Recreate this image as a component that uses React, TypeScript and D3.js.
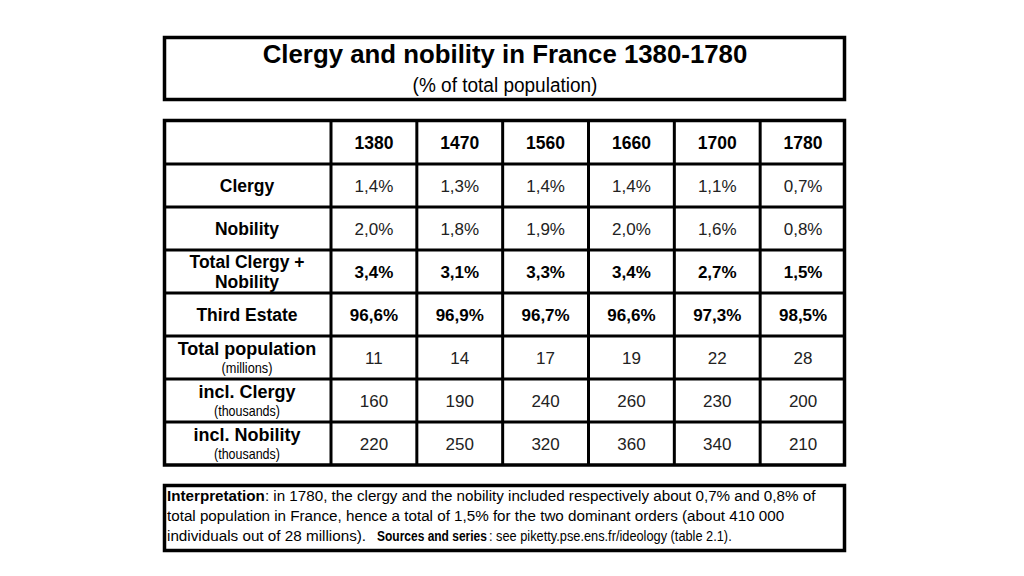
import React, { useLayoutEffect, useRef, useState } from "react";
import * as d3 from "d3";

const years = ["1380", "1470", "1560", "1660", "1700", "1780"];
const rowLabels = ["Clergy", "Nobility", "Total Clergy +|Nobility", "Third Estate", "Total population", "incl. Clergy", "incl. Nobility"];
const rowUnits = ["", "", "", "", "(millions)", "(thousands)", "(thousands)"];
const rowBold = [false, false, true, true, false, false, false];
const clergy = ["1,4%", "1,3%", "1,4%", "1,4%", "1,1%", "0,7%"];
const nobility = ["2,0%", "1,8%", "1,9%", "2,0%", "1,6%", "0,8%"];
const totalCN = ["3,4%", "3,1%", "3,3%", "3,4%", "2,7%", "1,5%"];
const thirdEstate = ["96,6%", "96,9%", "96,7%", "96,6%", "97,3%", "98,5%"];
const totalPop = ["11", "14", "17", "19", "22", "28"];
const inclClergy = ["160", "190", "240", "260", "230", "200"];
const inclNobility = ["220", "250", "320", "360", "340", "210"];
const rows = [clergy, nobility, totalCN, thirdEstate, totalPop, inclClergy, inclNobility];

const FONT = "'Liberation Sans', Arial, sans-serif";

type NTProps = { x: number; y: number; width: number; anchor?: "start" | "middle"; size: number; bold?: boolean; children: string };

function NarrowText({ x, y, width, anchor = "start", size, bold, children }: NTProps) {
  const ref = useRef<SVGTextElement>(null);
  const [sx, setSx] = useState(1);
  useLayoutEffect(() => {
    if (ref.current) {
      const w = ref.current.getComputedTextLength();
      if (w > 0) setSx(width / w);
    }
  }, [width, children, size]);
  return (
    <text
      ref={ref}
      transform={`translate(${x},${y}) scale(${sx},1)`}
      textAnchor={anchor}
      fontFamily={FONT}
      fontSize={size}
      fontWeight={bold ? "bold" : "normal"}
    >
      {children}
    </text>
  );
}

export default function App() {
  const left = 163, right = 846, firstColEnd = 331;
  const x = d3.scaleBand().domain(years).range([firstColEnd, right]).padding(0);
  const headerTop = 119, headerBottom = 164, tableBottom = 465;
  const y = d3.scaleBand().domain(rowLabels).range([headerBottom, tableBottom]).padding(0);
  const labelCx = (left + firstColEnd) / 2;
  const unitLen: Record<string, number> = { "(millions)": 51, "(thousands)": 66 };

  return (
    <svg width={1024} height={576} style={{ position: "absolute", left: 0, top: 0, background: "#fff" }}>
      <rect x={0} y={0} width={1024} height={576} fill="#fff" />
      {/* Title box */}
      <rect x={164.5} y={37.5} width={680} height={62} fill="#fff" stroke="#000" strokeWidth={3.5} />
      <text x={505} y={63} textAnchor="middle" fontFamily={FONT} fontWeight="bold" fontSize={25.8}>Clergy and nobility in France 1380-1780</text>
      <NarrowText x={505} y={92} anchor="middle" size={21} width={185}>(% of total population)</NarrowText>

      {/* Table */}
      <rect x={164.5} y={120.5} width={680} height={tableBottom - 120.5} fill="#fff" stroke="#000" strokeWidth={3.5} />
      <line x1={left} x2={right} y1={headerBottom} y2={headerBottom} stroke="#000" strokeWidth={3} />
      {rowLabels.slice(1).map((r) => (
        <line key={r} x1={left} x2={right} y1={y(r)} y2={y(r)} stroke="#000" strokeWidth={3} />
      ))}
      <line x1={firstColEnd} x2={firstColEnd} y1={headerTop} y2={tableBottom} stroke="#000" strokeWidth={3} />
      {years.slice(1).map((yr) => (
        <line key={yr} x1={x(yr)} x2={x(yr)} y1={headerTop} y2={tableBottom} stroke="#000" strokeWidth={3} />
      ))}
      {years.map((yr) => (
        <text key={yr} x={x(yr)! + x.bandwidth() / 2} y={(headerTop + headerBottom) / 2 + 7} textAnchor="middle" fontFamily={FONT} fontWeight="bold" fontSize={17.5}>{yr}</text>
      ))}
      {rowLabels.map((r, i) => {
        const cy = y(r)! + y.bandwidth() / 2;
        const parts = r.split("|");
        return (
          <g key={r}>
            {parts.length === 2 ? (
              <>
                <text x={labelCx} y={cy - 4} textAnchor="middle" fontFamily={FONT} fontWeight="bold" fontSize={17.5}>{parts[0]}</text>
                <text x={labelCx} y={cy + 16} textAnchor="middle" fontFamily={FONT} fontWeight="bold" fontSize={17.5}>{parts[1]}</text>
              </>
            ) : rowUnits[i] ? (
              <>
                <text x={labelCx} y={cy - 3} textAnchor="middle" fontFamily={FONT} fontWeight="bold" fontSize={18}>{r}</text>
                <NarrowText x={labelCx} y={cy + 15} anchor="middle" size={14} width={unitLen[rowUnits[i]]}>{rowUnits[i]}</NarrowText>
              </>
            ) : (
              <text x={labelCx} y={cy + 6.5} textAnchor="middle" fontFamily={FONT} fontWeight="bold" fontSize={17.5}>{r}</text>
            )}
            {rows[i].map((v, j) => (
              <text key={j} x={x(years[j])! + x.bandwidth() / 2} y={cy + 6.5} textAnchor="middle" fontFamily={FONT} fontWeight={rowBold[i] ? "bold" : "normal"} fontSize={17} fill={rowBold[i] ? "#000" : "#222"}>{v}</text>
            ))}
          </g>
        );
      })}

      {/* Interpretation box */}
      <rect x={164.5} y={485.5} width={680} height={65} fill="#fff" stroke="#000" strokeWidth={3.5} />
      <text x={167} y={501} fontFamily={FONT} fontSize={15.2}>
        <tspan fontWeight="bold">Interpretation</tspan>: in 1780, the clergy and the nobility included respectively about 0,7% and 0,8% of
      </text>
      <text x={167} y={521} fontFamily={FONT} fontSize={15.2}>total population in France, hence a total of 1,5% for the two dominant orders (about 410 000</text>
      <NarrowText x={167} y={541} size={15.2} width={199}>individuals out of 28 millions).</NarrowText>
      <NarrowText x={377} y={541} size={14.5} bold width={110}>Sources and series</NarrowText>
      <NarrowText x={489} y={541} size={14.5} width={243}>: see piketty.pse.ens.fr/ideology (table 2.1).</NarrowText>
    </svg>
  );
}
